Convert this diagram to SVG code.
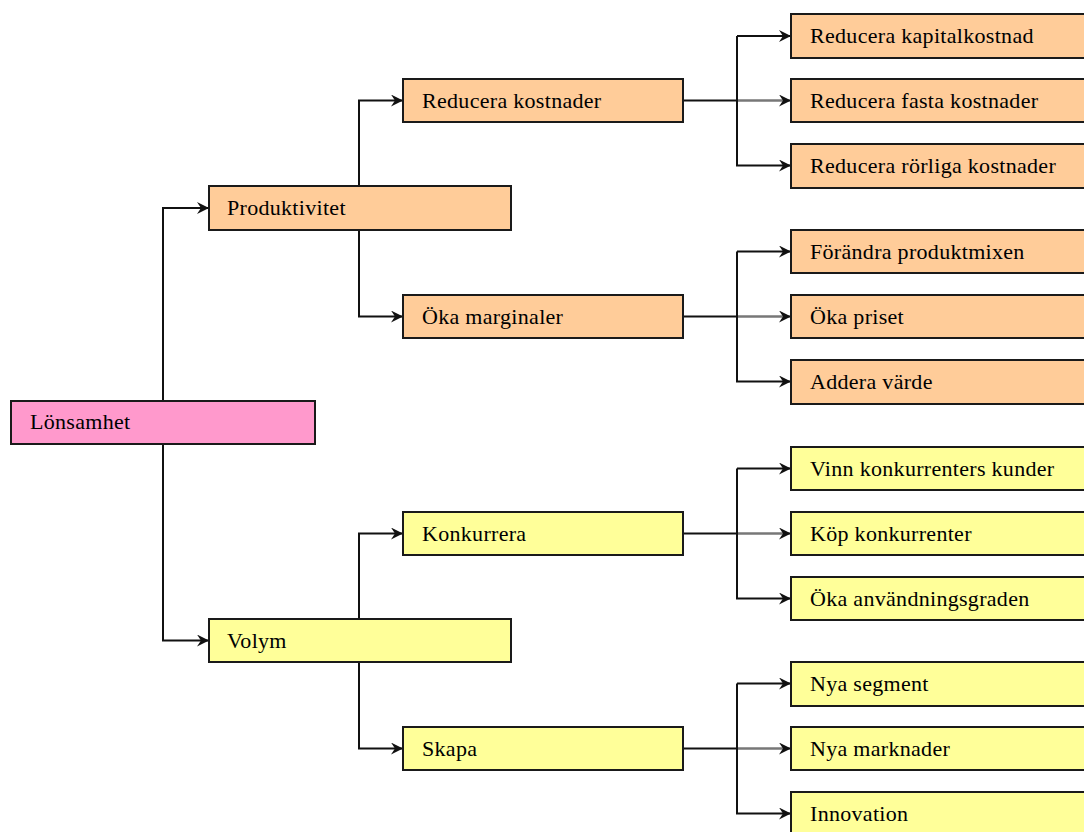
<svg xmlns="http://www.w3.org/2000/svg" width="1084" height="832" viewBox="0 0 1084 832">
  <style>
    .box { stroke: #1a1a1a; stroke-width: 2; }
    .root { fill: #FF99CC; }
    .cost { fill: #FFCC99; }
    .vol { fill: #FFFF99; }
    .lbl { font-family: "Liberation Serif", "Times New Roman", serif; font-size: 22px; letter-spacing: 0.3px; fill: #000; }
    .wire { fill: none; stroke: #111; stroke-width: 2; }
    .wire2 { fill: none; stroke: #777; stroke-width: 2.4; }
  </style>
  <defs>
    <marker id="arr" markerUnits="userSpaceOnUse" markerWidth="14" markerHeight="14" refX="12" refY="6" orient="auto">
      <path d="M0,0 L12,6 L0,12 L4,6 Z" fill="#111"/>
    </marker>
  </defs>

  <rect width="1084" height="832" fill="#fff"/>

  <!-- connectors -->
  <g id="connectors">
    <!-- Lönsamhet -> Produktivitet / Volym -->
    <path class="wire" d="M163,401 V208 H209" marker-end="url(#arr)"/>
    <path class="wire" d="M163,444 V640.5 H209" marker-end="url(#arr)"/>
    <!-- Produktivitet -> level 3 -->
    <path class="wire" d="M359,186 V100.5 H403" marker-end="url(#arr)"/>
    <path class="wire" d="M359,230 V316.5 H403" marker-end="url(#arr)"/>
    <!-- Volym -> level 3 -->
    <path class="wire" d="M359,619 V533.5 H403" marker-end="url(#arr)"/>
    <path class="wire" d="M359,662 V748.5 H403" marker-end="url(#arr)"/>

    <!-- Reducera kostnader -> leaves -->
    <path class="wire" d="M683,100.5 H737"/>
    <path class="wire2" d="M737,100.5 H791" marker-end="url(#arr)"/>
    <path class="wire" d="M737,36 V165.5 H791" marker-end="url(#arr)"/>
    <path class="wire" d="M737,36 H791" marker-end="url(#arr)"/>

    <!-- Öka marginaler -> leaves -->
    <path class="wire" d="M683,316.5 H737"/>
    <path class="wire2" d="M737,316.5 H791" marker-end="url(#arr)"/>
    <path class="wire" d="M737,251.5 V381.5 H791" marker-end="url(#arr)"/>
    <path class="wire" d="M737,251.5 H791" marker-end="url(#arr)"/>

    <!-- Konkurrera -> leaves -->
    <path class="wire" d="M683,533.5 H737"/>
    <path class="wire2" d="M737,533.5 H791" marker-end="url(#arr)"/>
    <path class="wire" d="M737,468.5 V598.5 H791" marker-end="url(#arr)"/>
    <path class="wire" d="M737,468.5 H791" marker-end="url(#arr)"/>

    <!-- Skapa -> leaves -->
    <path class="wire" d="M683,748.5 H737"/>
    <path class="wire2" d="M737,748.5 H791" marker-end="url(#arr)"/>
    <path class="wire" d="M737,683.5 V813.5 H791" marker-end="url(#arr)"/>
    <path class="wire" d="M737,683.5 H791" marker-end="url(#arr)"/>
  </g>

  <!-- level 1 -->
  <g id="lonsamhet">
    <rect class="box root" x="11" y="401" width="304" height="43"/>
    <text class="lbl" x="30" y="429">Lönsamhet</text>
  </g>

  <!-- level 2 -->
  <g id="produktivitet">
    <rect class="box cost" x="209" y="186" width="302" height="44"/>
    <text class="lbl" x="227" y="215">Produktivitet</text>
  </g>
  <g id="volym">
    <rect class="box vol" x="209" y="619" width="302" height="43"/>
    <text class="lbl" x="227" y="648">Volym</text>
  </g>

  <!-- level 3 -->
  <g id="reducera-kostnader">
    <rect class="box cost" x="403" y="79" width="280" height="43"/>
    <text class="lbl" x="422" y="108">Reducera kostnader</text>
  </g>
  <g id="oka-marginaler">
    <rect class="box cost" x="403" y="295" width="280" height="43"/>
    <text class="lbl" x="422" y="324">Öka marginaler</text>
  </g>
  <g id="konkurrera">
    <rect class="box vol" x="403" y="512" width="280" height="43"/>
    <text class="lbl" x="422" y="541">Konkurrera</text>
  </g>
  <g id="skapa">
    <rect class="box vol" x="403" y="727" width="280" height="43"/>
    <text class="lbl" x="422" y="756">Skapa</text>
  </g>

  <!-- level 4 -->
  <g id="reducera-kapitalkostnad">
    <rect class="box cost" x="791" y="14" width="320" height="44"/>
    <text class="lbl" x="810" y="43">Reducera kapitalkostnad</text>
  </g>
  <g id="reducera-fasta-kostnader">
    <rect class="box cost" x="791" y="79" width="320" height="43"/>
    <text class="lbl" x="810" y="108">Reducera fasta kostnader</text>
  </g>
  <g id="reducera-rorliga-kostnader">
    <rect class="box cost" x="791" y="144" width="320" height="44"/>
    <text class="lbl" x="810" y="173">Reducera rörliga kostnader</text>
  </g>
  <g id="forandra-produktmixen">
    <rect class="box cost" x="791" y="230" width="320" height="43"/>
    <text class="lbl" x="810" y="259">Förändra produktmixen</text>
  </g>
  <g id="oka-priset">
    <rect class="box cost" x="791" y="295" width="320" height="43"/>
    <text class="lbl" x="810" y="324">Öka priset</text>
  </g>
  <g id="addera-varde">
    <rect class="box cost" x="791" y="360" width="320" height="44"/>
    <text class="lbl" x="810" y="389">Addera värde</text>
  </g>
  <g id="vinn-konkurrenters-kunder">
    <rect class="box vol" x="791" y="447" width="320" height="43"/>
    <text class="lbl" x="810" y="476">Vinn konkurrenters kunder</text>
  </g>
  <g id="kop-konkurrenter">
    <rect class="box vol" x="791" y="512" width="320" height="43"/>
    <text class="lbl" x="810" y="541">Köp konkurrenter</text>
  </g>
  <g id="oka-anvandningsgraden">
    <rect class="box vol" x="791" y="577" width="320" height="43"/>
    <text class="lbl" x="810" y="606">Öka användningsgraden</text>
  </g>
  <g id="nya-segment">
    <rect class="box vol" x="791" y="662" width="320" height="44"/>
    <text class="lbl" x="810" y="691">Nya segment</text>
  </g>
  <g id="nya-marknader">
    <rect class="box vol" x="791" y="727" width="320" height="43"/>
    <text class="lbl" x="810" y="756">Nya marknader</text>
  </g>
  <g id="innovation">
    <rect class="box vol" x="791" y="792" width="320" height="50"/>
    <text class="lbl" x="810" y="821">Innovation</text>
  </g>
</svg>
